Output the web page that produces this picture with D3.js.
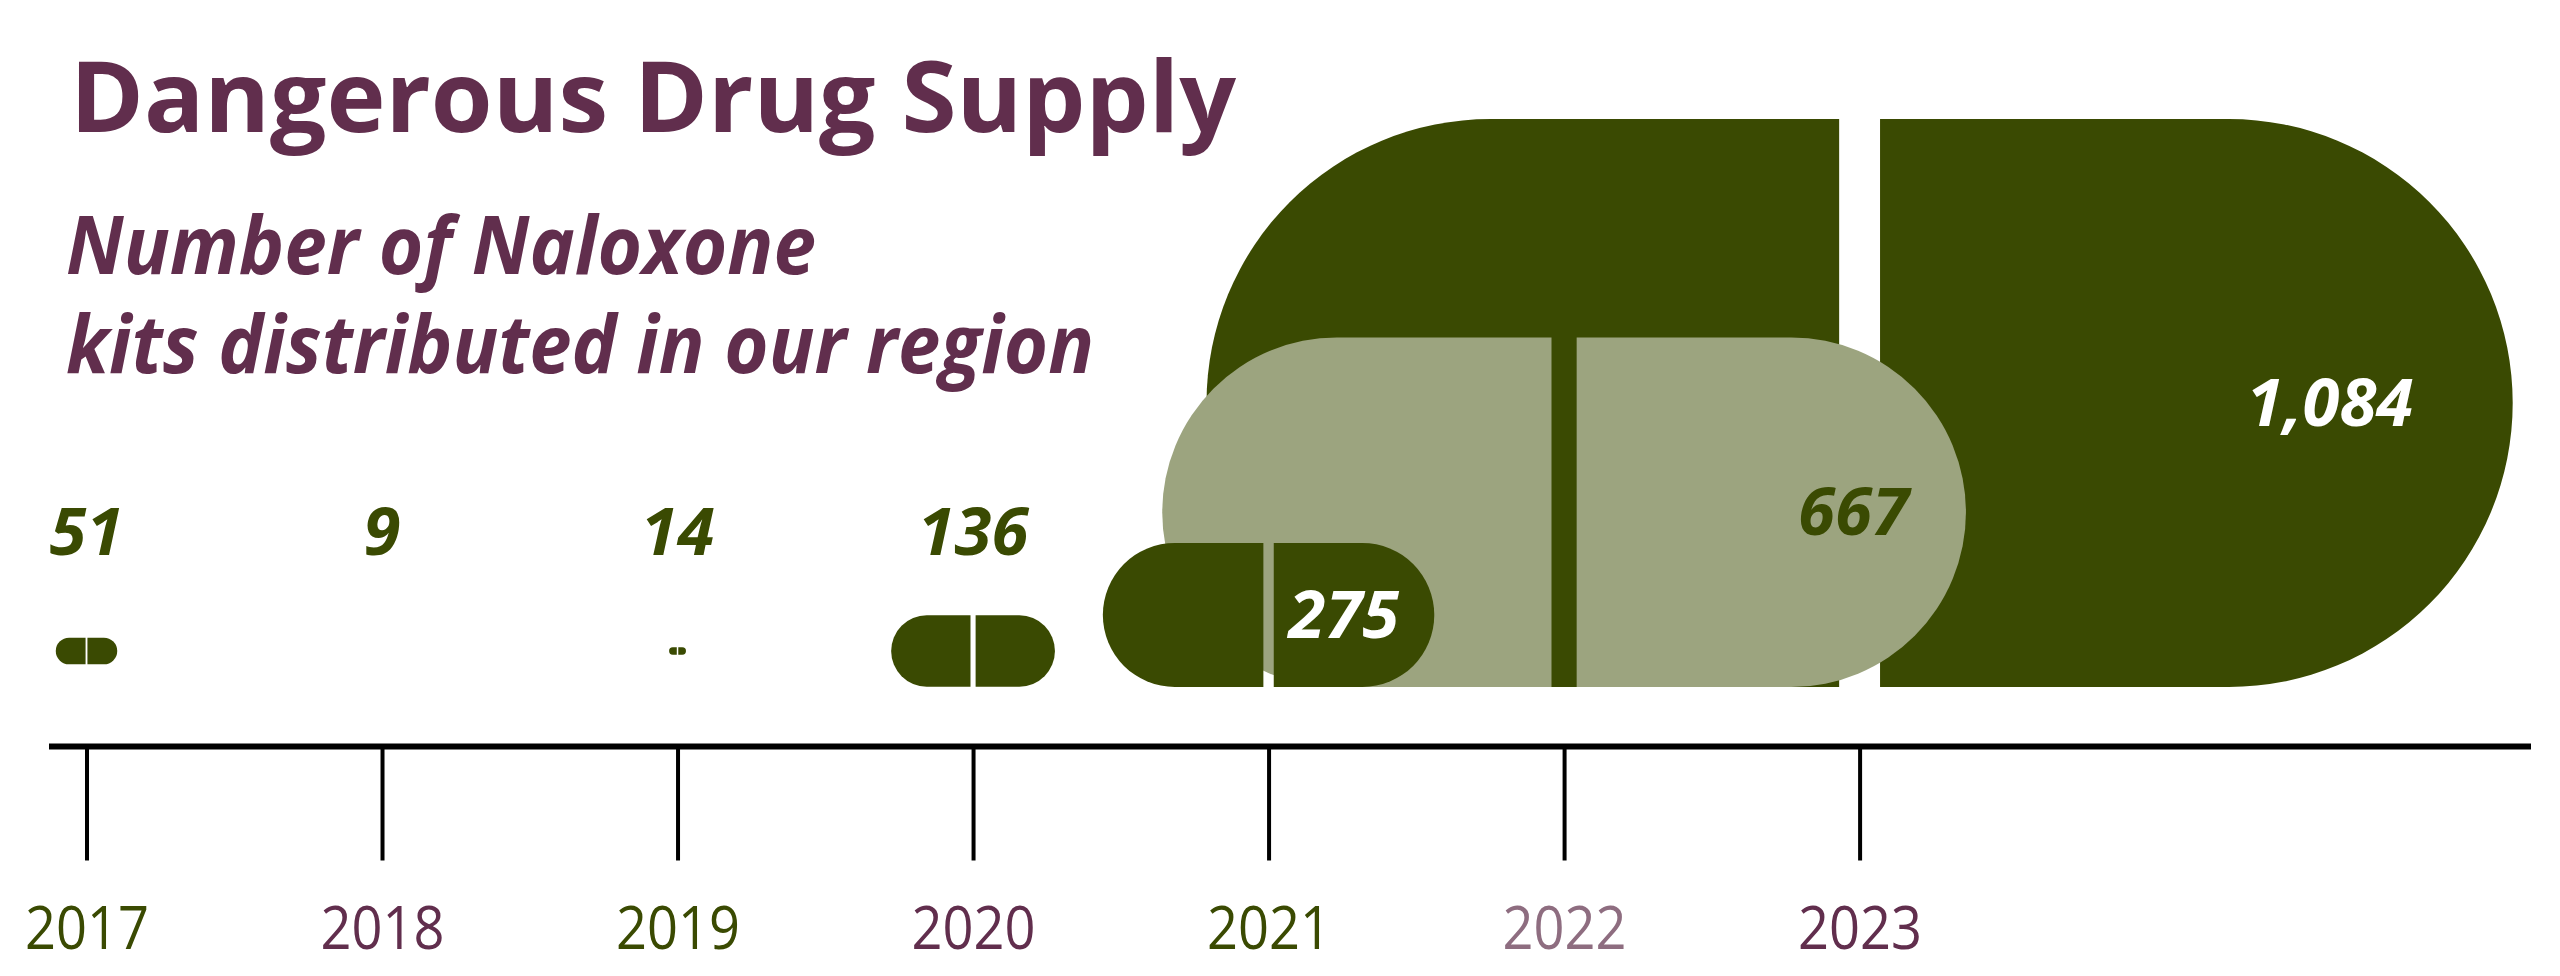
<!DOCTYPE html>
<html>
<head>
<meta charset="utf-8">
<script src="https://cdn.jsdelivr.net/npm/d3@7"></script>
<style>
  html, body { margin: 0; padding: 0; background: #ffffff; }
  svg { display: block; }
</style>
</head>
<body>
<svg id="chart" width="2560" height="976"></svg>
<script>
// ---- data ----
const years = ["2017", "2018", "2019", "2020", "2021", "2022", "2023"];
const kits = [51, 9, 14, 136, 275, 667, 1084];
const titleText = "Dangerous Drug Supply";
const subtitleLines = ["Number of Naloxone", "kits distributed in our region"];

// ---- styles ----
const PURPLE = "#612e4d";
const DARK = "#3a4a02";
const LIGHT = "#9ca47f";
const PALE_PURPLE = "#8e6d80";
const yearColors = [DARK, PURPLE, DARK, PURPLE, DARK, PALE_PURPLE, PURPLE];
const pillColors = [DARK, DARK, DARK, DARK, DARK, LIGHT, DARK];
const insideLabelColors = ["#fff", "#fff", "#fff", "#fff", "#fff", DARK, "#fff"];

const svg = d3.select("#chart");

// ---- title ----
svg.append("text")
  .attr("x", 70).attr("y", 132)
  .attr("font-family", "'Open Sans', sans-serif")
  .attr("font-weight", 700)
  .attr("font-size", 98)
  .attr("fill", PURPLE)
  .attr("textLength", 1166)
  .attr("lengthAdjust", "spacingAndGlyphs")
  .text(titleText);

const subLens = [750, 1028];
subtitleLines.forEach((t, i) => {
  svg.append("text")
    .attr("x", 66).attr("y", 274 + i * 99)
    .attr("font-family", "'Open Sans', sans-serif")
    .attr("font-weight", 700)
    .attr("font-style", "italic")
    .attr("font-size", 80)
    .attr("fill", PURPLE)
    .attr("textLength", subLens[i])
    .attr("lengthAdjust", "spacingAndGlyphs")
    .text(t);
});

// ---- scales ----
const x = d3.scalePoint().domain(years).range([86.5, 1859.6]);
const hScale = d3.scaleLinear().domain([0, 1084]).range([0, 568]);
const ASPECT = 2.3;
const BASE = 687;      // bottom of pills
const MID = 651;       // center line for small pills
const minVisible = 10; // the 2018 pill is not drawn in the original

const data = years.map((y, i) => ({
  year: y, value: kits[i], i,
  h: hScale(kits[i]),
}));
data.forEach(d => {
  d.w = d.h * ASPECT;
  d.cx = x(d.year);
  d.cy = Math.min(MID, BASE - d.h / 2);
  d.top = d.cy - d.h / 2;
  d.bottom = d.cy + d.h / 2;
  d.gap = Math.max(1.5, d.h * 0.072);
});

// ---- pills (largest drawn first) ----
const drawOrder = data.filter(d => d.value >= minVisible).sort((a, b) => b.value - a.value);
const pills = svg.append("g");
drawOrder.forEach(d => {
  const r = d.h / 2;
  const x0 = d.cx - d.w / 2, x1 = d.cx + d.w / 2;
  const gl = d.cx - d.gap / 2, gr = d.cx + d.gap / 2;
  const left = `M${gl},${d.top} L${x0 + r},${d.top} A${r},${r} 0 0 0 ${x0 + r},${d.bottom} L${gl},${d.bottom} Z`;
  const right = `M${gr},${d.top} L${x1 - r},${d.top} A${r},${r} 0 0 1 ${x1 - r},${d.bottom} L${gr},${d.bottom} Z`;
  pills.append("path").attr("d", left).attr("fill", pillColors[d.i]);
  pills.append("path").attr("d", right).attr("fill", pillColors[d.i]);
});

// ---- value labels ----
const fmt = d3.format(",");
const labels = svg.append("g")
  .attr("font-family", "'Open Sans', sans-serif")
  .attr("font-weight", 700)
  .attr("font-style", "italic")
  .attr("font-size", 67);
data.forEach(d => {
  const t = labels.append("text").text(fmt(d.value));
  if (d.h < 100) {
    t.attr("x", d.cx).attr("y", 555).attr("text-anchor", "middle").attr("fill", DARK);
  } else {
    const tw = t.node().getComputedTextLength();
    const off = Math.min(0.36 * d.w, d.w / 2 - tw / 2 - 35);
    t.attr("x", d.cx + off).attr("y", d.cy + 23).attr("text-anchor", "middle")
     .attr("fill", insideLabelColors[d.i]);
  }
});

// ---- axis ----
const axisY = 746.5;
const axis = d3.axisBottom(x).tickSize(114).tickPadding(0);
const gAxis = svg.append("g").attr("transform", `translate(0,${axisY})`).call(axis);
gAxis.select(".domain").remove();
gAxis.selectAll(".tick line").attr("stroke", "#000").attr("stroke-width", 4);
gAxis.selectAll(".tick text")
  .attr("y", 202).attr("dy", 0)
  .attr("font-family", "'Open Sans', sans-serif")
  .attr("font-size", 60)
  .attr("textLength", 124)
  .attr("lengthAdjust", "spacingAndGlyphs")
  .attr("fill", (d, i) => yearColors[i]);
svg.append("line")
  .attr("x1", 49).attr("x2", 2531)
  .attr("y1", axisY).attr("y2", axisY)
  .attr("stroke", "#000").attr("stroke-width", 6);
</script>
</body>
</html>
